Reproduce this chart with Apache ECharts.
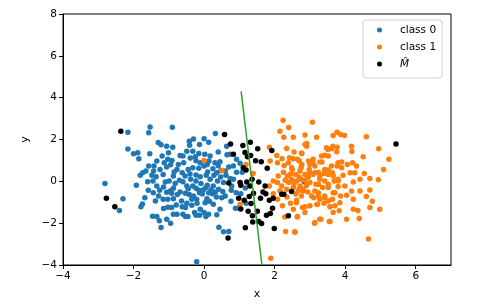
<!DOCTYPE html>
<html>
<head>
<meta charset="utf-8">
<script src="https://cdn.jsdelivr.net/npm/echarts@6/dist/echarts.min.js"></script>
<style>html,body{margin:0;padding:0;background:#fff}#c{width:479px;height:305px}</style>
</head>
<body>
<div id="c"></div>
<script>
var xTicks = [-4, -2, 0, 2, 4, 6];
var yTicks = [-4, -2, 0, 2, 4, 6, 8];
var seriesNames = ['class 0', 'class 1', 'M\u0302'];

var class0 = [
[-2.81,-0.10],[-2.16,2.35],[-2.16,1.54],[-1.92,-0.19],[-2.40,-1.40],[-2.30,-0.83],[-2.0,1.32],[-1.88,1.37],
[-1.85,1.08],[-1.53,2.60],[-1.57,2.32],[-0.90,2.59],[-1.54,1.32],[-1.81,0.29],[-1.74,0.41],[-1.65,0.49],
[-1.57,0.73],[-1.43,0.49],[-1.42,0.73],[-1.30,1.86],[-1.22,1.75],[-1.06,1.68],[-0.89,1.63],[-0.68,1.24],
[-1.03,1.05],[-0.91,1.0],[-0.95,0.79],[-1.06,0.68],[-1.16,0.33],[-1.36,0.22],[-1.60,-0.02],[-1.58,-0.43],
[-1.44,-0.54],[-1.38,-0.94],[-1.68,-0.78],[-1.75,-1.08],[-1.79,-1.21],[-1.46,-1.67],[-1.34,-1.68],[-1.27,-1.89],
[-1.22,-2.21],[-0.95,-2.0],[-1.15,-1.30],[-1.03,-1.24],[-0.92,-1.25],[-1.03,-0.86],[-0.87,-0.83],[-0.77,-1.57],
[-0.60,-1.57],[-0.53,-1.68],[-0.46,-1.68],[-0.27,-1.49],[-0.23,-1.62],[-0.13,-1.62],[0.0,-1.49],[0.05,-1.68],
[0.13,-1.57],[0.36,-1.60],[-0.62,-1.22],[-0.49,-1.05],[-0.35,-1.14],[-0.21,-0.86],[0.42,-2.19],[0.55,-2.41],
[0.70,-2.40],[-0.21,-3.84],[-0.30,2.02],[-0.42,1.92],[-0.41,1.73],[-0.13,1.76],[0.0,2.03],[0.32,2.29],
[0.13,1.87],[-0.15,1.33],[0.02,1.29],[0.17,1.21],[0.40,1.40],[-0.39,1.11],[-0.23,0.98],[0.14,0.97],
[0.31,0.89],[0.45,0.94],[0.65,1.27],[0.74,1.30],[0.92,1.06],[1.02,0.86],[0.83,0.73],[0.70,0.68],
[0.92,0.44],[1.08,0.44],[0.62,0.29],[0.74,0.13],[0.77,-0.43],[0.91,-0.54],[0.76,-0.95],[0.89,-1.29],
[0.98,-1.27],[1.04,-0.59],[1.17,-0.32],[1.19,-1.05],[0.41,-0.38],[0.53,-0.49],[0.50,-0.79],[0.23,-0.59],
[0.08,-0.83],[-0.13,-0.54],[-0.15,-0.43],[-0.02,-0.40],[-0.23,-0.33],[-0.32,-0.22],[-0.42,-0.63],[-0.53,-0.57],
[-0.68,-0.51],[-0.76,-0.63],[-0.87,-0.33],[-0.82,-0.10],[-0.99,0.02],[-1.10,-0.03],[-1.15,-0.27],[-1.26,-0.43],
[-1.06,-0.52],[-0.92,-0.57],[-0.60,-0.02],[-0.54,0.25],[-0.62,0.41],[-0.45,0.57],[-0.32,0.65],[-0.15,0.62],
[0.0,0.73],[0.09,0.81],[0.25,0.60],[0.36,0.41],[0.48,0.52],[0.28,0.29],[0.17,0.10],[0.06,0.29],
[-0.11,0.22],[-0.23,0.30],[-0.38,0.10],[-0.49,-0.22],[-0.23,0.02],[-0.09,-0.10],[0.09,-0.19],[0.26,-0.22],
[0.38,0.02],[0.47,0.21],[0.55,-0.06],[0.32,-0.51],[0.13,-0.54],[-0.64,-0.94],[-0.79,-1.13],[-1.16,-0.86],
[-1.29,-0.70],[-1.34,-0.22],[-1.45,0.02],[-1.48,0.29],[-1.25,0.57],[-1.13,0.89],[-0.77,0.57],[-0.87,0.25],
[-0.73,0.81],[-0.58,0.89],[-0.60,1.21],[-0.49,1.44],[-0.32,1.44],[-0.25,1.17],[-0.11,0.89],[-1.01,1.37],
[-1.19,1.21],[-1.34,0.97],[0.64,1.68],[0.78,-0.22],[0.83,0.10],[0.03,-1.02],[0.26,-1.10],[0.45,-1.33],
[-0.11,-1.33],[-0.35,-0.86],[-0.53,-1.25],[-0.87,-1.57],[-1.06,-1.81],[2.84,-0.02],
[-0.05,-0.60],[0.05,-0.30],[0.20,-0.40],[-0.30,-0.70],[-0.45,-0.35],[0.35,-0.75],[0.15,-0.95],[-0.20,-1.05],
[-0.70,0.05],[-0.40,0.35],[0.10,0.45],[0.40,0.75],[-0.85,0.45],[-0.95,-0.45],[0.60,-0.70],[0.60,0.50]
];

var class1 = [
[0.0,1.0],[0.51,0.52],[1.19,0.81],[1.39,0.38],[1.02,-1.10],
[2.24,2.92],[2.40,2.57],[3.07,2.83],[2.15,2.40],[2.26,2.11],[2.53,2.11],[2.86,2.21],[3.19,2.11],
[1.85,1.63],[2.06,1.24],[2.34,1.57],[2.55,1.40],[2.86,1.76],[2.91,1.68],[2.77,1.33],[2.42,1.13],
[2.21,1.08],[1.87,0.97],[2.08,0.89],[2.27,0.76],[2.53,1.08],[2.70,0.97],[2.77,0.81],[2.96,0.97],
[3.09,1.05],[3.14,0.73],[3.34,0.92],[3.42,1.25],[3.51,1.52],[3.65,1.68],[3.77,1.63],[3.66,2.19],
[3.77,2.35],[3.87,2.24],[3.98,2.19],[4.18,1.68],[4.19,1.43],[4.51,1.17],[4.60,2.13],[4.95,1.56],
[5.24,1.05],[5.09,0.57],[4.70,0.14],[4.94,0.08],[4.70,-0.41],[4.54,0.37],[4.32,0.73],[4.27,0.41],
[4.42,0.10],[4.23,-0.03],[4.18,-0.46],[4.42,-0.46],[4.60,-0.73],[4.77,-0.95],[4.70,-1.25],[4.98,-1.33],
[4.40,-1.78],[4.36,-1.40],[4.23,-0.86],[4.04,-1.81],[4.66,-2.76],[3.83,-1.41],[3.55,-1.92],[3.28,-1.81],
[3.13,-2.0],[2.86,-1.49],[2.79,-1.25],[3.0,-1.17],[3.20,-1.11],[3.40,-1.05],[3.57,-1.21],[3.64,-0.86],
[3.87,-0.70],[4.04,-0.67],[3.99,-0.22],[3.80,-0.25],[3.69,0.02],[3.52,-0.14],[3.36,-0.30],[3.24,-0.54],
[3.11,-0.78],[2.94,-0.51],[2.76,-0.70],[2.62,-0.90],[2.45,-1.05],[2.53,-1.33],[2.29,-1.70],[2.64,-1.71],
[2.31,-2.40],[2.57,-2.41],[1.89,-3.68],[2.08,-0.86],[2.22,-1.17],[1.96,-0.59],[1.85,-0.22],[1.96,0.02],
[2.10,0.25],[2.25,0.44],[2.36,0.25],[2.48,0.10],[2.60,0.33],[2.72,0.49],[2.86,0.33],[2.98,0.57],
[3.09,0.33],[3.24,0.44],[3.40,0.37],[3.52,0.54],[3.64,0.41],[3.77,0.73],[3.90,0.92],[4.06,0.81],
[4.21,0.89],[4.14,0.41],[3.94,0.29],[3.80,0.10],[3.28,0.10],[3.17,-0.14],[3.0,-0.06],[2.72,-0.22],
[2.67,-0.46],[2.53,-0.30],[2.34,-0.38],[2.20,-0.22],[2.08,-0.06],[2.74,0.10],[2.81,-0.38],[2.62,0.02],
[2.48,0.65],[2.39,0.89],[3.28,-0.86],[3.42,-0.70],[3.66,-0.54],[3.85,-1.02],[4.23,-1.33],
[2.91,1.81],[3.47,1.60],[3.61,1.56],[3.76,1.41],[2.76,1.36],[3.33,1.21],[3.52,1.21],[2.65,1.05],
[3.09,0.86],[3.28,0.92],[3.80,0.89],[3.90,0.65],[3.61,0.73],[3.42,0.57],[3.14,0.41],[2.99,0.41],
[3.28,0.25],[3.52,0.33],[3.66,0.25],[3.80,0.02],[3.42,0.02],[3.24,-0.14],[3.52,-0.30],[3.71,-0.54],
[3.14,-0.46],[3.24,-0.70],[3.42,-0.78],[3.52,-0.94],[3.05,-0.70],[2.81,-0.46],[2.62,-1.02],[2.86,-1.21],
[3.22,-1.10],[3.57,-1.21],[3.71,-1.17],[3.66,-1.49],[2.65,-1.68],[3.14,-1.97],[3.31,-1.81],[3.57,-1.92],
[2.58,-2.44],[2.45,0.35],[2.55,-0.10],[2.70,0.20],[2.85,0.05],[2.90,-0.20],[2.40,-0.05],[2.30,0.05],
[2.60,-0.60],[2.75,0.65],[2.95,0.20],[2.15,-0.45],[2.35,-0.75],[2.70,-0.35],[3.00,0.80],[2.50,0.55]
];

var mHat = [
[-2.36,2.40],[-2.77,-0.81],[-2.53,-1.22],[0.58,2.24],[0.75,1.79],[0.83,1.30],[1.10,1.71],[1.31,1.87],
[1.16,1.38],[1.23,1.17],[1.32,1.24],[1.46,0.98],[1.52,1.56],[1.92,1.48],[1.11,0.65],[1.19,0.54],
[1.62,0.94],[1.79,0.63],[0.70,-0.08],[1.02,-0.06],[1.21,-0.03],[1.36,0.10],[1.55,-0.03],[1.73,-0.22],
[1.04,-0.19],[1.30,-0.22],[0.98,-0.81],[1.14,-0.90],[1.28,-0.73],[1.40,-0.57],[1.67,-0.51],[1.75,-0.59],
[1.85,-0.90],[1.96,-0.81],[1.60,-0.81],[1.33,-1.06],[1.04,-1.32],[1.25,-1.43],[1.51,-1.43],[1.37,-1.65],
[1.94,-1.29],[1.77,-1.62],[1.88,-1.54],[1.38,-1.95],[1.55,-1.92],[1.63,-2.02],[1.17,-2.22],[1.99,-2.25],
[0.68,-2.71],[2.20,-0.62],[2.26,-0.62],[2.48,-0.49],[2.39,-1.65],[5.44,1.79]
];

var boundary = [[1.05, 4.30], [1.64, -4.0]];

function fmt(v) { return String(v).replace('-', '\u2212'); }

var chart = echarts.init(document.getElementById('c'), null, {renderer: 'canvas'});
var font = 'DejaVu Sans';
function axisCommon(min, max) {
  return {
    min: min, max: max, interval: 2,
    axisLine: {show: true, onZero: false, lineStyle: {color: '#000', width: 1}},
    axisTick: {show: true, inside: false, length: 4, lineStyle: {color: '#000', width: 1}},
    axisLabel: {color: '#000', fontFamily: font, fontSize: 10.5, formatter: fmt, margin: 6},
    splitLine: {show: false},
    nameTextStyle: {color: '#000', fontFamily: font, fontSize: 11}
  };
}
var xa = axisCommon(xTicks[0], 7);
xa.type = 'value'; xa.name = 'x'; xa.nameLocation = 'middle'; xa.nameGap = 24;
xa.axisLabel.showMaxLabel = false;
var ya = axisCommon(yTicks[0], yTicks[yTicks.length - 1]);
ya.type = 'value'; ya.name = 'y'; ya.nameLocation = 'middle'; ya.nameGap = 30;

var scatterStyle = function (name, data, color, z) {
  return {
    name: name, type: 'scatter', data: data, symbol: 'circle', symbolSize: 5.5, z: z,
    itemStyle: {color: color, opacity: 1}, emphasis: {disabled: true}, animation: false
  };
};

chart.setOption({
  animation: false,
  backgroundColor: '#fff',
  grid: {left: 63, right: 28, top: 14, bottom: 39, show: true, borderColor: '#000', borderWidth: 1, backgroundColor: 'transparent'},
  xAxis: xa,
  yAxis: ya,
  legend: {
    data: seriesNames, orient: 'vertical', left: 363, top: 20,
    padding: [4, 6, 8, 14], itemGap: 5, itemWidth: 5, itemHeight: 5, icon: 'circle',
    borderColor: '#d0d0d0', borderWidth: 1, borderRadius: 3, backgroundColor: 'rgba(255,255,255,0.8)',
    textStyle: {color: '#000', fontFamily: font, fontSize: 10.5, padding: [0, 0, 0, 13], lineHeight: 12,
      rich: {i: {fontStyle: 'italic', fontFamily: font, fontSize: 10.5, color: '#000'}}},
    formatter: function (n) { return n === seriesNames[2] ? '{i|' + n + '}' : n; },
    selectedMode: false
  },
  series: [
    scatterStyle(seriesNames[0], class0, '#1f77b4', 2),
    scatterStyle(seriesNames[1], class1, '#ff7f0e', 3),
    scatterStyle(seriesNames[2], mHat, '#000000', 4),
    {type: 'line', data: boundary, symbol: 'none', z: 5, lineStyle: {color: '#2ca02c', width: 1.5}, silent: true, animation: false}
  ]
});
</script>
</body>
</html>
